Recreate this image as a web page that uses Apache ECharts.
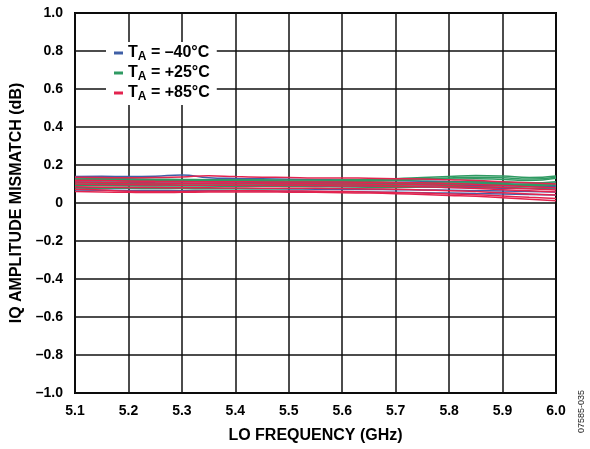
<!DOCTYPE html>
<html><head><meta charset="utf-8">
<script src="https://cdn.jsdelivr.net/npm/echarts@6/dist/echarts.min.js"></script>
<style>html,body{margin:0;padding:0;background:#fff}#c{width:590px;height:449px}</style>
</head><body><div id="c"></div>
<script>
// Frequency points (GHz)
const freqs = [5.10,5.15,5.20,5.25,5.30,5.35,5.40,5.45,5.50,5.55,5.60,5.65,5.70,5.75,5.80,5.85,5.90,5.95,6.00];
const xTicks = ['5.1','5.2','5.3','5.4','5.5','5.6','5.7','5.8','5.9','6.0'];
const yTicks = ['1.0','0.8','0.6','0.4','0.2','0','–0.2','–0.4','–0.6','–0.8','–1.0'];
const legendNames = ['–40°C','+25°C','+85°C'];

// T_A = -40°C curves
const blue1 = [0.140,0.141,0.139,0.141,0.147,0.133,0.129,0.127,0.125,0.123,0.121,0.119,0.117,0.115,0.113,0.111,0.108,0.106,0.104];
const blue2 = [0.126,0.124,0.122,0.121,0.119,0.117,0.115,0.114,0.112,0.111,0.109,0.107,0.106,0.104,0.102,0.100,0.098,0.096,0.094];
const blue3 = [0.111,0.109,0.108,0.106,0.105,0.104,0.103,0.101,0.100,0.099,0.098,0.097,0.096,0.095,0.094,0.092,0.090,0.088,0.086];
const blue4 = [0.096,0.094,0.093,0.092,0.092,0.091,0.090,0.090,0.089,0.088,0.087,0.086,0.085,0.084,0.082,0.080,0.078,0.076,0.074];
const blue5 = [0.081,0.079,0.078,0.078,0.077,0.076,0.076,0.075,0.074,0.073,0.072,0.071,0.070,0.069,0.067,0.065,0.063,0.060,0.058];
const blue6 = [0.068,0.067,0.066,0.066,0.065,0.065,0.064,0.063,0.062,0.061,0.060,0.058,0.056,0.054,0.052,0.050,0.048,0.045,0.042];
const blue7 = [0.118,0.117,0.116,0.115,0.114,0.112,0.110,0.109,0.108,0.107,0.106,0.105,0.104,0.103,0.101,0.099,0.097,0.094,0.091];

// T_A = +25°C curves
const green1 = [0.131,0.129,0.127,0.125,0.124,0.123,0.122,0.122,0.121,0.121,0.122,0.124,0.128,0.134,0.140,0.145,0.142,0.134,0.142];
const green2 = [0.118,0.117,0.116,0.115,0.114,0.114,0.113,0.112,0.112,0.112,0.113,0.115,0.118,0.122,0.126,0.128,0.124,0.118,0.130];
const green3 = [0.105,0.104,0.103,0.102,0.102,0.101,0.100,0.100,0.100,0.101,0.102,0.104,0.106,0.108,0.110,0.112,0.110,0.105,0.112];
const green4 = [0.092,0.091,0.090,0.090,0.089,0.089,0.088,0.088,0.088,0.089,0.090,0.092,0.094,0.096,0.098,0.099,0.096,0.091,0.096];
const green5 = [0.079,0.077,0.077,0.076,0.076,0.075,0.075,0.075,0.076,0.077,0.078,0.080,0.082,0.084,0.085,0.086,0.083,0.078,0.080];
const green6 = [0.124,0.123,0.121,0.120,0.119,0.118,0.117,0.117,0.116,0.116,0.117,0.119,0.122,0.127,0.132,0.136,0.133,0.126,0.136];
const green7 = [0.098,0.097,0.096,0.096,0.095,0.095,0.094,0.094,0.094,0.095,0.096,0.098,0.100,0.102,0.104,0.105,0.102,0.097,0.103];

// T_A = +85°C curves
const red1 = [0.135,0.134,0.133,0.134,0.137,0.143,0.139,0.136,0.134,0.132,0.132,0.130,0.128,0.126,0.122,0.118,0.112,0.106,0.100];
const red2 = [0.120,0.118,0.116,0.114,0.113,0.112,0.112,0.111,0.110,0.110,0.110,0.109,0.108,0.106,0.103,0.098,0.092,0.086,0.080];
const red3 = [0.100,0.098,0.096,0.095,0.094,0.094,0.093,0.092,0.092,0.091,0.090,0.089,0.087,0.085,0.081,0.076,0.070,0.064,0.058];
const red4 = [0.085,0.083,0.082,0.081,0.080,0.080,0.079,0.078,0.078,0.077,0.076,0.074,0.072,0.069,0.065,0.060,0.054,0.048,0.042];
const red5 = [0.072,0.068,0.062,0.060,0.061,0.063,0.064,0.064,0.063,0.062,0.060,0.058,0.055,0.052,0.048,0.043,0.037,0.030,0.024];
const red6 = [0.060,0.058,0.056,0.055,0.056,0.058,0.058,0.058,0.057,0.056,0.054,0.052,0.049,0.045,0.040,0.035,0.028,0.020,0.012];
const red7 = [0.110,0.108,0.106,0.105,0.104,0.104,0.103,0.102,0.101,0.101,0.100,0.099,0.098,0.096,0.092,0.087,0.081,0.075,0.069];

const BLUE = '#3f5fa6', GREEN = '#2f9a62', RED = '#e3234f';
const FONT = '"Liberation Sans", Arial, sans-serif';

const groups = [
  {name: legendNames[0], color: BLUE, curves: [blue1,blue2,blue3,blue4,blue5,blue6,blue7]},
  {name: legendNames[1], color: GREEN, curves: [green1,green2,green3,green4,green5,green6,green7]},
  {name: legendNames[2], color: RED, curves: [red1,red2,red3,red4,red5,red6,red7]}
];
const series = [];
groups.forEach(g => g.curves.forEach(c => series.push({
  name: g.name, type: 'line', smooth: true, showSymbol: false, symbol: 'none',
  color: g.color, lineStyle: {width: 1.5, color: g.color},
  data: c.map((v, i) => [freqs[i], v]), z: 3
})));

const chart = echarts.init(document.getElementById('c'), null, {renderer: 'canvas'});
chart.setOption({
  animation: false,
  backgroundColor: '#fff',
  grid: {left: 75, right: 34, top: 13, bottom: 54, show: true, borderColor: '#000', borderWidth: 2},
  xAxis: {
    type: 'value', min: 5.1, max: 6.0, interval: 0.1,
    name: 'LO FREQUENCY (GHz)', nameLocation: 'middle', nameGap: 35,
    nameTextStyle: {fontFamily: FONT, fontWeight: 'bold', fontSize: 16, color: '#000'},
    axisLine: {show: false}, axisTick: {show: false},
    axisLabel: {fontFamily: FONT, fontWeight: 'bold', fontSize: 14, color: '#000', margin: 11,
      formatter: v => xTicks[Math.round((v - 5.1) / 0.1)] || ''},
    splitLine: {show: true, lineStyle: {color: '#111', width: 1.5}}
  },
  yAxis: {
    type: 'value', min: -1, max: 1, interval: 0.2,
    name: 'IQ AMPLITUDE MISMATCH (dB)', nameLocation: 'middle', nameGap: 49,
    nameTextStyle: {fontFamily: FONT, fontWeight: 'bold', fontSize: 16, color: '#000'},
    axisLine: {show: false}, axisTick: {show: false},
    axisLabel: {fontFamily: FONT, fontWeight: 'bold', fontSize: 14, color: '#000', margin: 12,
      formatter: v => yTicks[Math.round((1 - v) / 0.2)] || ''},
    splitLine: {show: true, lineStyle: {color: '#111', width: 1.5}}
  },
  legend: {
    data: legendNames, orient: 'vertical', left: 106, top: 42,
    backgroundColor: '#fff', padding: [1, 7, 2, 8], itemGap: 0,
    icon: 'rect', itemWidth: 9, itemHeight: 3,
    formatter: n => '{t|T}{s|A}{t| = ' + n + '}',
    textStyle: {
      fontFamily: FONT, fontWeight: 'bold', color: '#000',
      rich: {
        t: {fontFamily: FONT, fontWeight: 'bold', fontSize: 16, color: '#000', lineHeight: 19},
        s: {fontFamily: FONT, fontWeight: 'bold', fontSize: 12, color: '#000', lineHeight: 11, padding: [8, 0, 0, 0]}
      }
    }
  },
  graphic: [{
    type: 'text', left: 577, top: 390, rotation: Math.PI / 2, originX: 0, originY: 0,
    style: {text: '07585-035', fontFamily: FONT, fontSize: 9, fill: '#222'}
  }],
  series: series
});
</script></body></html>
